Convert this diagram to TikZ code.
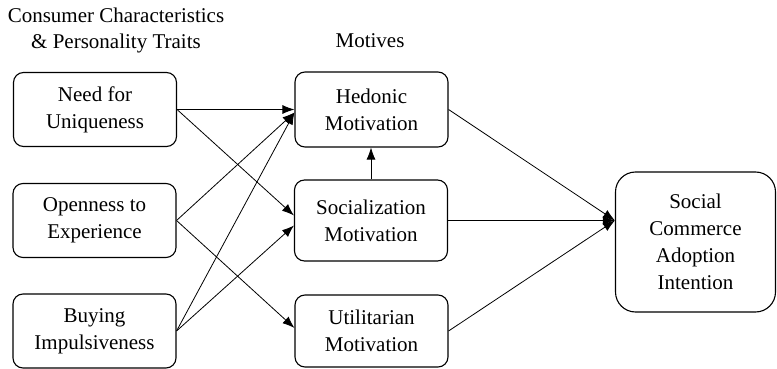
\documentclass[tikz,border=0pt]{standalone}
\usepackage{fontspec}
\setmainfont{Liberation Serif}
\usetikzlibrary{arrows.meta,calc}
\begin{document}
\begin{tikzpicture}[x=1pt,y=-1pt,
  box/.style={draw,line width=1.1pt,rounded corners=10pt,align=center,inner sep=0pt,
    font=\fontsize{21}{27}\selectfont},
  lbox/.style={box,minimum width=163pt,minimum height=74pt},
  mbox/.style={box,minimum width=153pt},
  lab/.style={align=center,inner sep=0pt,font=\fontsize{21}{26}\selectfont},
  conn/.style={line width=0.8pt,-{Latex[length=12pt,width=9pt]}}]
\useasboundingbox (0,0) rectangle (777,369);
\node[lab] (t1) at (116,30) {Consumer Characteristics\\\& Personality Traits};
\node[lab] (t2) at (370,41) {Motives};
\node[lbox] (need) at (95,109.5) {Need for\\Uniqueness};
\node[lbox] (open) at (94.5,220.5) {Openness to\\Experience};
\node[lbox] (buy) at (94.5,331) {Buying\\Impulsiveness};
\node[mbox,minimum height=75pt] (hed) at (371.5,109.5) {Hedonic\\Motivation};
\node[mbox,minimum height=81pt] (soc) at (371,220.5) {Socialization\\Motivation};
\node[mbox,minimum height=72pt] (util) at (371.5,331) {Utilitarian\\Motivation};
\node[box,rounded corners=20pt,minimum width=160pt,minimum height=140pt] (sc) at (695.5,242)
  {Social\\Commerce\\Adoption\\Intention};
\coordinate (tip) at (sc.west |- soc.east);
\draw[conn] (need.east) -- (hed.west);
\draw[conn] (need.east) -- ([yshift=5pt]soc.west);
\draw[conn] (open.east) -- ([yshift=-3pt]hed.west);
\draw[conn] (open.east) -- ([yshift=3pt]util.west);
\draw[conn] (buy.east) -- ([yshift=-3pt]hed.west);
\draw[conn] (buy.east) -- ([yshift=-5pt]soc.west);
\draw[conn] (soc.north) -- (soc.north |- hed.south);
\draw[conn] (hed.east) -- (tip);
\draw[conn] (soc.east) -- (tip);
\draw[conn] (util.east) -- (tip);
\end{tikzpicture}
\end{document}
